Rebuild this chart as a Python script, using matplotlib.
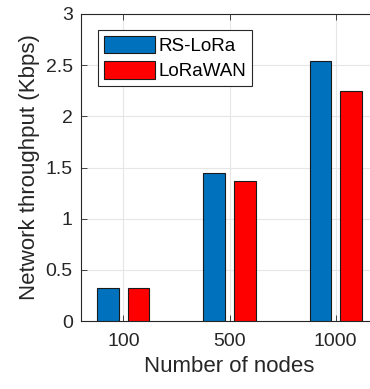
import numpy as np
import matplotlib
matplotlib.use("Agg")
import matplotlib.pyplot as plt

plt.rcParams['font.family'] = ['Liberation Sans', 'DejaVu Sans']

nodes = ['100', '500', '1000']
rs_lora = [0.325, 1.45, 2.54]
lorawan = [0.325, 1.37, 2.25]

fig = plt.figure(figsize=(3.7, 3.89), dpi=100)
ax = fig.add_axes([81 / 370, 68 / 389, 297 / 370, 307 / 389])

x = np.arange(1, len(nodes) + 1)
w = 0.205
off = 0.143
ax.bar(x - off, rs_lora, w, color='#0072BD', edgecolor='#1a1a1a', linewidth=0.8,
       label='RS-LoRa', zorder=3)
ax.bar(x + off, lorawan, w, color='#FF0000', edgecolor='#1a1a1a', linewidth=0.8,
       label='LoRaWAN', zorder=3)

ax.set_xlim(0.6, 3.4)
ax.set_ylim(0, 3)
ax.set_xticks(x)
ax.set_xticklabels(nodes)
ax.set_yticks([0, 0.5, 1, 1.5, 2, 2.5, 3])
ax.set_yticklabels(['0', '0.5', '1', '1.5', '2', '2.5', '3'])
ax.grid(True, color='#e6e6e6', linewidth=0.8, zorder=0)
ax.tick_params(direction='in', length=4, width=0.6, colors='#262626',
               labelsize=14, top=True, right=True, pad=6)
ax.tick_params(axis='x', pad=9)
for s in ax.spines.values():
    s.set_color('#262626')
    s.set_linewidth(0.8)

ax.set_xlabel('Number of nodes', fontsize=16, color='#262626', labelpad=4)
ax.set_ylabel('Network throughput (Kbps)', fontsize=16, color='#262626', labelpad=4)

leg = ax.legend(loc='upper left', bbox_to_anchor=(17 / 297, 1 - 16 / 307),
                fontsize=13.5, handlelength=2.75, handleheight=1.05,
                handletextpad=0.2, labelspacing=0.35, borderpad=0.3,
                borderaxespad=0, fancybox=False, framealpha=1)
leg.get_frame().set_edgecolor('#262626')
leg.get_frame().set_linewidth(0.8)

fig.savefig('out.png', dpi=100)
